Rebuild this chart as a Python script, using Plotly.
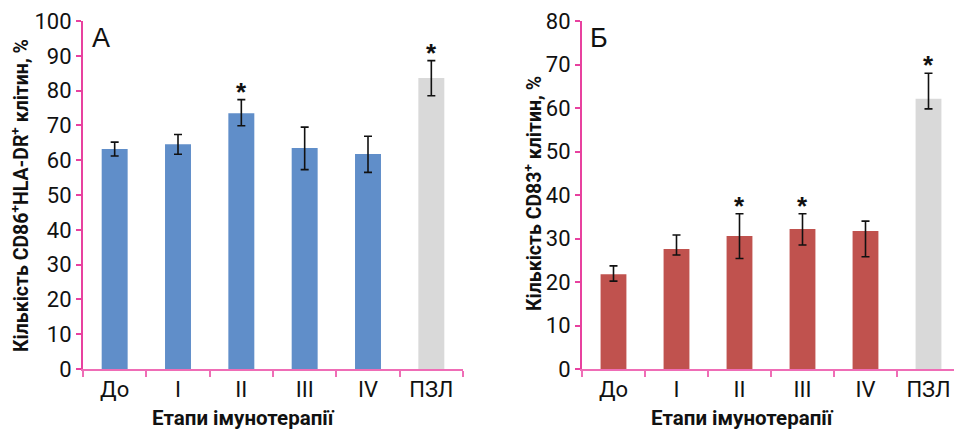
import plotly.graph_objects as go

categories = ["До", "I", "II", "III", "IV", "ПЗЛ"]

# Panel A: CD86+HLA-DR+
cd86_values = [63.2, 64.6, 73.5, 63.5, 61.8, 83.6]
cd86_err_plus = [2.0, 2.8, 3.9, 6.0, 5.1, 5.0]
cd86_err_minus = [2.0, 2.9, 3.6, 6.2, 5.3, 5.1]
cd86_signif = [False, False, True, False, False, True]

# Panel B: CD83+
cd83_values = [21.8, 27.6, 30.6, 32.2, 31.7, 62.1]
cd83_err_plus = [1.9, 3.2, 5.1, 3.5, 2.3, 5.9]
cd83_err_minus = [1.6, 1.4, 5.2, 3.7, 5.9, 2.3]
cd83_signif = [False, False, True, True, False, True]

blue = "#608ec9"
red = "#c0524e"
grey = "#d9d9d9"

FONT = "Roboto, Liberation Sans, sans-serif"
REG = "Liberation Sans, Arial, sans-serif"

W, H = 954, 430

fig = go.Figure()

colors_a = [blue] * 5 + [grey]
colors_b = [red] * 5 + [grey]

fig.add_trace(go.Bar(
    x=categories, y=cd86_values, marker=dict(color=colors_a, line=dict(width=0)),
    error_y=dict(type="data", symmetric=False, array=cd86_err_plus, arrayminus=cd86_err_minus,
                 color="#111111", thickness=1.6, width=4),
    xaxis="x", yaxis="y", showlegend=False, hoverinfo="skip"))

fig.add_trace(go.Bar(
    x=categories, y=cd83_values, marker=dict(color=colors_b, line=dict(width=0)),
    error_y=dict(type="data", symmetric=False, array=cd83_err_plus, arrayminus=cd83_err_minus,
                 color="#111111", thickness=1.6, width=4),
    xaxis="x2", yaxis="y2", showlegend=False, hoverinfo="skip"))

y_pink = "#e8419f"
x_pink = "#ef6db6"

ydom = [(H - 369) / H, (H - 21) / H]

common_x = dict(
    type="category", showline=True, linecolor=x_pink, linewidth=2,
    ticks="outside", tickson="boundaries", ticklen=6, tickcolor=x_pink, tickwidth=2,
    showgrid=False, zeroline=False, automargin=False,
    tickfont=dict(family=FONT, size=22, color="#111111"),
)
common_y = dict(
    showline=True, linecolor=y_pink, linewidth=2,
    ticks="outside", ticklen=5, tickcolor=y_pink, tickwidth=2,
    showgrid=False, zeroline=False, dtick=10, automargin=False,
    tickfont=dict(family=FONT, size=22, color="#111111"),
    domain=ydom,
)

fig.update_layout(
    template="none",
    width=W, height=H,
    margin=dict(l=0, r=0, t=0, b=0, pad=0, autoexpand=False),
    paper_bgcolor="white", plot_bgcolor="white",
    bargap=0.59,
    xaxis=dict(common_x, domain=[83 / W, 463 / W], range=[-0.5, 5.5], anchor="y"),
    yaxis=dict(common_y, range=[0, 100], anchor="x"),
    xaxis2=dict(common_x, domain=[582 / W, 1.0], range=[-0.5, 5.5 - 6 / 63.0], anchor="y2"),
    yaxis2=dict(common_y, range=[0, 80], anchor="x2"),
)

annotations = []
star_font = dict(family=REG, size=26, color="#111111")
for i, s in enumerate(cd86_signif):
    if s:
        annotations.append(dict(x=categories[i], y=cd86_values[i] + cd86_err_plus[i], xref="x", yref="y",
                                text="<b>*</b>", showarrow=False, yanchor="bottom", yshift=-9,
                                font=star_font))
for i, s in enumerate(cd83_signif):
    if s:
        annotations.append(dict(x=categories[i], y=cd83_values[i] + cd83_err_plus[i], xref="x2", yref="y2",
                                text="<b>*</b>", showarrow=False, yanchor="bottom", yshift=-9,
                                font=star_font))

# panel letters
annotations.append(dict(x=101 / W, y=(H - 38) / H, xref="paper", yref="paper", text="А",
                        showarrow=False, xanchor="center", yanchor="middle",
                        font=dict(family=REG, size=27, color="#111111")))
annotations.append(dict(x=599 / W, y=(H - 38) / H, xref="paper", yref="paper", text="Б",
                        showarrow=False, xanchor="center", yanchor="middle",
                        font=dict(family=REG, size=27, color="#111111")))

# axis titles
title_font = dict(family=FONT, size=20.5, color="#111111")
ytitle_font = dict(family=FONT, size=19.5, color="#111111")
annotations.append(dict(x=243 / W, y=(H - 418) / H, xref="paper", yref="paper",
                        text="<b>Етапи імунотерапії</b>", showarrow=False,
                        xanchor="center", yanchor="middle", font=title_font))
annotations.append(dict(x=742 / W, y=(H - 418) / H, xref="paper", yref="paper",
                        text="<b>Етапи імунотерапії</b>", showarrow=False,
                        xanchor="center", yanchor="middle", font=title_font))
annotations.append(dict(x=20 / W, y=(H - 196) / H, xref="paper", yref="paper",
                        text="<b>Кількість CD86<sup>+</sup>HLA-DR<sup>+</sup> клітин, %</b>",
                        showarrow=False, textangle=-90, xanchor="center", yanchor="middle",
                        font=ytitle_font))
annotations.append(dict(x=533 / W, y=(H - 194) / H, xref="paper", yref="paper",
                        text="<b>Кількість CD83<sup>+</sup> клітин, %</b>",
                        showarrow=False, textangle=-90, xanchor="center", yanchor="middle",
                        font=ytitle_font))

fig.update_layout(annotations=annotations)

post = (
    "document.documentElement.style.margin='0';"
    "document.documentElement.style.overflow='hidden';"
    "document.body.style.margin='0';"
    "document.body.style.overflow='hidden';"
)

fig.write_html("out.html", config={"displayModeBar": False}, post_script=post)
